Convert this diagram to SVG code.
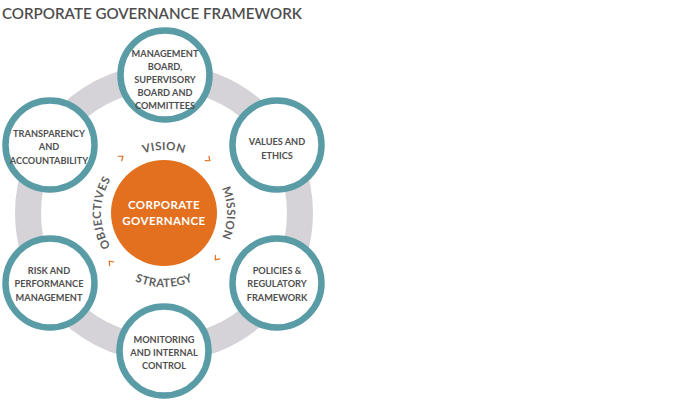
<svg xmlns="http://www.w3.org/2000/svg" width="693" height="410" viewBox="0 0 693 410">
<style>
.node{fill:#ffffff;stroke:#5a9ca6;stroke-width:6.5}
.nt{font-family:Lato,"Liberation Sans",sans-serif;font-weight:bold;font-size:9.2px;fill:#4f4f4f;text-anchor:middle}
.arc{font-family:Lato,"Liberation Sans",sans-serif;font-weight:bold;font-size:11.5px;fill:#5f5f5f;letter-spacing:0.4px}
.chev{fill:none;stroke:#e3701e;stroke-width:1.2;stroke-linecap:round;stroke-linejoin:round}
.ct{font-family:Lato,"Liberation Sans",sans-serif;font-weight:bold;font-size:11.5px;fill:#ffffff;text-anchor:middle;letter-spacing:0.4px}
</style>
<defs>
<path id="cw" d="M164,276 A63,63 0 1,1 164,150 A63,63 0 1,1 164,276"/>
<path id="ccw" d="M90,213 A74,74 0 0,0 238,213"/>
<path id="chv" d="M-2.5,-2.8 L1.2,0 L-2.5,2.8"/>
</defs>
<rect width="693" height="410" fill="#ffffff"/>
<text x="2" y="19" font-family="Lato,'Liberation Sans',sans-serif" font-size="14.5" font-weight="600" fill="#4d4d4d" textLength="300" lengthAdjust="spacingAndGlyphs">CORPORATE GOVERNANCE FRAMEWORK</text>
<circle cx="164" cy="213" r="136" fill="none" stroke="#d5d3d8" stroke-width="26"/>
<g id="connectors">
<use href="#chv" class="chev" transform="translate(122,157) rotate(-37)"/>
<use href="#chv" class="chev" transform="translate(209,160) rotate(40)"/>
<use href="#chv" class="chev" transform="translate(216,259) rotate(131)"/>
<use href="#chv" class="chev" transform="translate(110,262) rotate(228)"/>
</g>
<g id="labels">
<text class="arc" text-anchor="middle"><textPath href="#cw" startOffset="25%">OBJECTIVES</textPath></text>
<text class="arc" text-anchor="middle"><textPath href="#cw" startOffset="50%">VISION</textPath></text>
<text class="arc" text-anchor="middle"><textPath href="#cw" startOffset="75%">MISSION</textPath></text>
<text class="arc" text-anchor="middle"><textPath href="#ccw" startOffset="50%">STRATEGY</textPath></text>
</g>
<g id="center">
<circle cx="164" cy="213" r="53" fill="#e3701e"/>
<text class="ct" x="164" y="209">CORPORATE</text>
<text class="ct" x="164" y="225">GOVERNANCE</text>
</g>
<g id="n-board">
<circle class="node" cx="165" cy="75" r="44.5"/>
<text class="nt" x="165" y="56.5">MANAGEMENT</text>
<text class="nt" x="165" y="70">BOARD,</text>
<text class="nt" x="165" y="83">SUPERVISORY</text>
<text class="nt" x="165" y="96">BOARD AND</text>
<text class="nt" x="165" y="109">COMMITTEES</text>
</g>
<g id="n-values">
<circle class="node" cx="277" cy="145" r="44.5"/>
<text class="nt" x="277" y="145">VALUES AND</text>
<text class="nt" x="277" y="158.5">ETHICS</text>
</g>
<g id="n-policies">
<circle class="node" cx="277" cy="283" r="44.5"/>
<text class="nt" x="277" y="274">POLICIES &amp;</text>
<text class="nt" x="277" y="287">REGULATORY</text>
<text class="nt" x="277" y="300.5">FRAMEWORK</text>
</g>
<g id="n-monitoring">
<circle class="node" cx="164" cy="351" r="44.5"/>
<text class="nt" x="164" y="342.5">MONITORING</text>
<text class="nt" x="164" y="355.5">AND INTERNAL</text>
<text class="nt" x="164" y="369">CONTROL</text>
</g>
<g id="n-risk">
<circle class="node" cx="50" cy="283" r="44.5"/>
<text class="nt" x="49" y="274">RISK AND</text>
<text class="nt" x="49" y="287">PERFORMANCE</text>
<text class="nt" x="49" y="300.5">MANAGEMENT</text>
</g>
<g id="n-transparency">
<circle class="node" cx="50" cy="145" r="44.5"/>
<text class="nt" x="49" y="136.5">TRANSPARENCY</text>
<text class="nt" x="49" y="150">AND</text>
<text class="nt" x="49" y="163.5">ACCOUNTABILITY</text>
</g>
</svg>
